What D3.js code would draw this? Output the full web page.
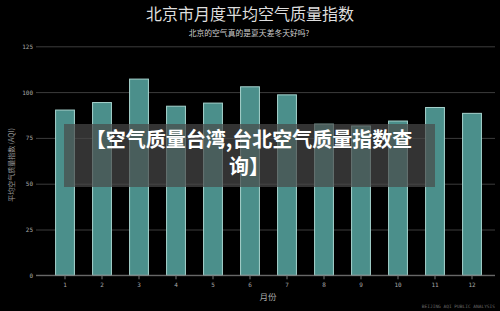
<!DOCTYPE html>
<html>
<head>
<meta charset="utf-8">
<script src="https://cdn.jsdelivr.net/npm/d3@7"></script>
<style>
  body { margin: 0; background: #000; }
  svg { display: block; }
</style>
</head>
<body>
<svg id="chart" width="500" height="311"></svg>
<script>
var months = [1, 2, 3, 4, 5, 6, 7, 8, 9, 10, 11, 12];
var aqi = [90.2, 94.3, 107.1, 92.3, 94.0, 102.9, 98.5, 82.5, 81.5, 84.2, 91.6, 88.4];
var y_ticks = [0, 25, 50, 75, 100, 125];
var caption_lines = ['【空气质量台湾,台北空气质量指数查', '询】'];

var svg = d3.select('#chart');
var font = "'Noto Sans CJK SC', 'Noto Sans', sans-serif";

svg.append('rect')
    .attr('width', 500)
    .attr('height', 311)
    .attr('fill', '#000');

var x = d3.scaleBand()
    .domain(months)
    .range([46.5, 490.5])
    .paddingInner(0.49)
    .paddingOuter(0.245);

var y = d3.scaleLinear()
    .domain([0, 125])
    .range([275.3, 46.3]);

// gridlines + y labels
var yAxis = svg.append('g')
    .attr('transform', 'translate(36,0)')
    .call(d3.axisLeft(y).tickValues(y_ticks).tickSize(-459).tickPadding(3));
yAxis.select('.domain').remove();
yAxis.selectAll('line').attr('stroke', '#3c3c3c').attr('stroke-width', 1);
yAxis.selectAll('text')
    .attr('fill', '#a8a8a8')
    .style('font-family', "'DejaVu Sans Mono', monospace")
    .style('font-size', '6px');

// bars
svg.append('g')
    .selectAll('rect')
    .data(aqi)
    .enter()
    .append('rect')
        .attr('x', function(d, i) { return x(months[i]); })
        .attr('y', function(d) { return y(d); })
        .attr('width', x.bandwidth())
        .attr('height', function(d) { return y(0) - y(d); })
        .attr('fill', '#4b8f8b')
        .attr('stroke', '#a6d3ce')
        .attr('stroke-width', 1);

// x axis
var xAxis = svg.append('g')
    .attr('transform', 'translate(0,' + y(0) + ')')
    .call(d3.axisBottom(x).tickSize(4).tickSizeOuter(0).tickPadding(3));
xAxis.select('.domain').attr('d', 'M36,0H495').attr('stroke', '#777');
xAxis.selectAll('line').attr('stroke', '#777');
xAxis.selectAll('text')
    .attr('fill', '#a8a8a8')
    .style('font-family', "'DejaVu Sans Mono', monospace")
    .style('font-size', '6px');

// titles
svg.append('text')
    .attr('x', 250).attr('y', 20)
    .attr('text-anchor', 'middle')
    .attr('fill', '#dedede')
    .style('font-family', font)
    .style('font-size', '16px')
    .text('北京市月度平均空气质量指数');

svg.append('text')
    .attr('x', 249).attr('y', 36)
    .attr('text-anchor', 'middle')
    .attr('fill', '#cfcfcf')
    .style('font-family', font)
    .style('font-size', '7.8px')
    .text('北京的空气真的是夏天差冬天好吗?');

svg.append('text')
    .attr('x', 268).attr('y', 300)
    .attr('text-anchor', 'middle')
    .attr('fill', '#a8a8a8')
    .style('font-family', font)
    .style('font-size', '8.5px')
    .text('月份');

svg.append('text')
    .attr('transform', 'translate(14,165) rotate(-90)')
    .attr('text-anchor', 'middle')
    .attr('fill', '#9a9a9a')
    .style('font-family', font)
    .style('font-size', '7px')
    .text('平均空气质量指数 (AQI)');

svg.append('text')
    .attr('x', 495).attr('y', 308)
    .attr('text-anchor', 'end')
    .attr('fill', '#6a6a6a')
    .style('font-family', "'DejaVu Sans Mono', monospace")
    .style('font-size', '4.5px')
    .text('BEIJING AQI PUBLIC ANALYSIS');

// overlay caption
svg.append('rect')
    .attr('x', 64).attr('y', 124)
    .attr('width', 371).attr('height', 63)
    .attr('fill', 'rgba(72,72,72,0.7)');

svg.selectAll('.caption')
    .data(caption_lines)
    .enter()
    .append('text')
        .attr('class', 'caption')
        .attr('x', 249)
        .attr('y', function(d, i) { return 147 + i * 27; })
        .attr('text-anchor', 'middle')
        .attr('fill', '#fff')
        .style('font-family', font)
        .style('font-weight', 'bold')
        .style('font-size', '20px')
        .text(function(d) { return d; });
</script>
</body>
</html>
